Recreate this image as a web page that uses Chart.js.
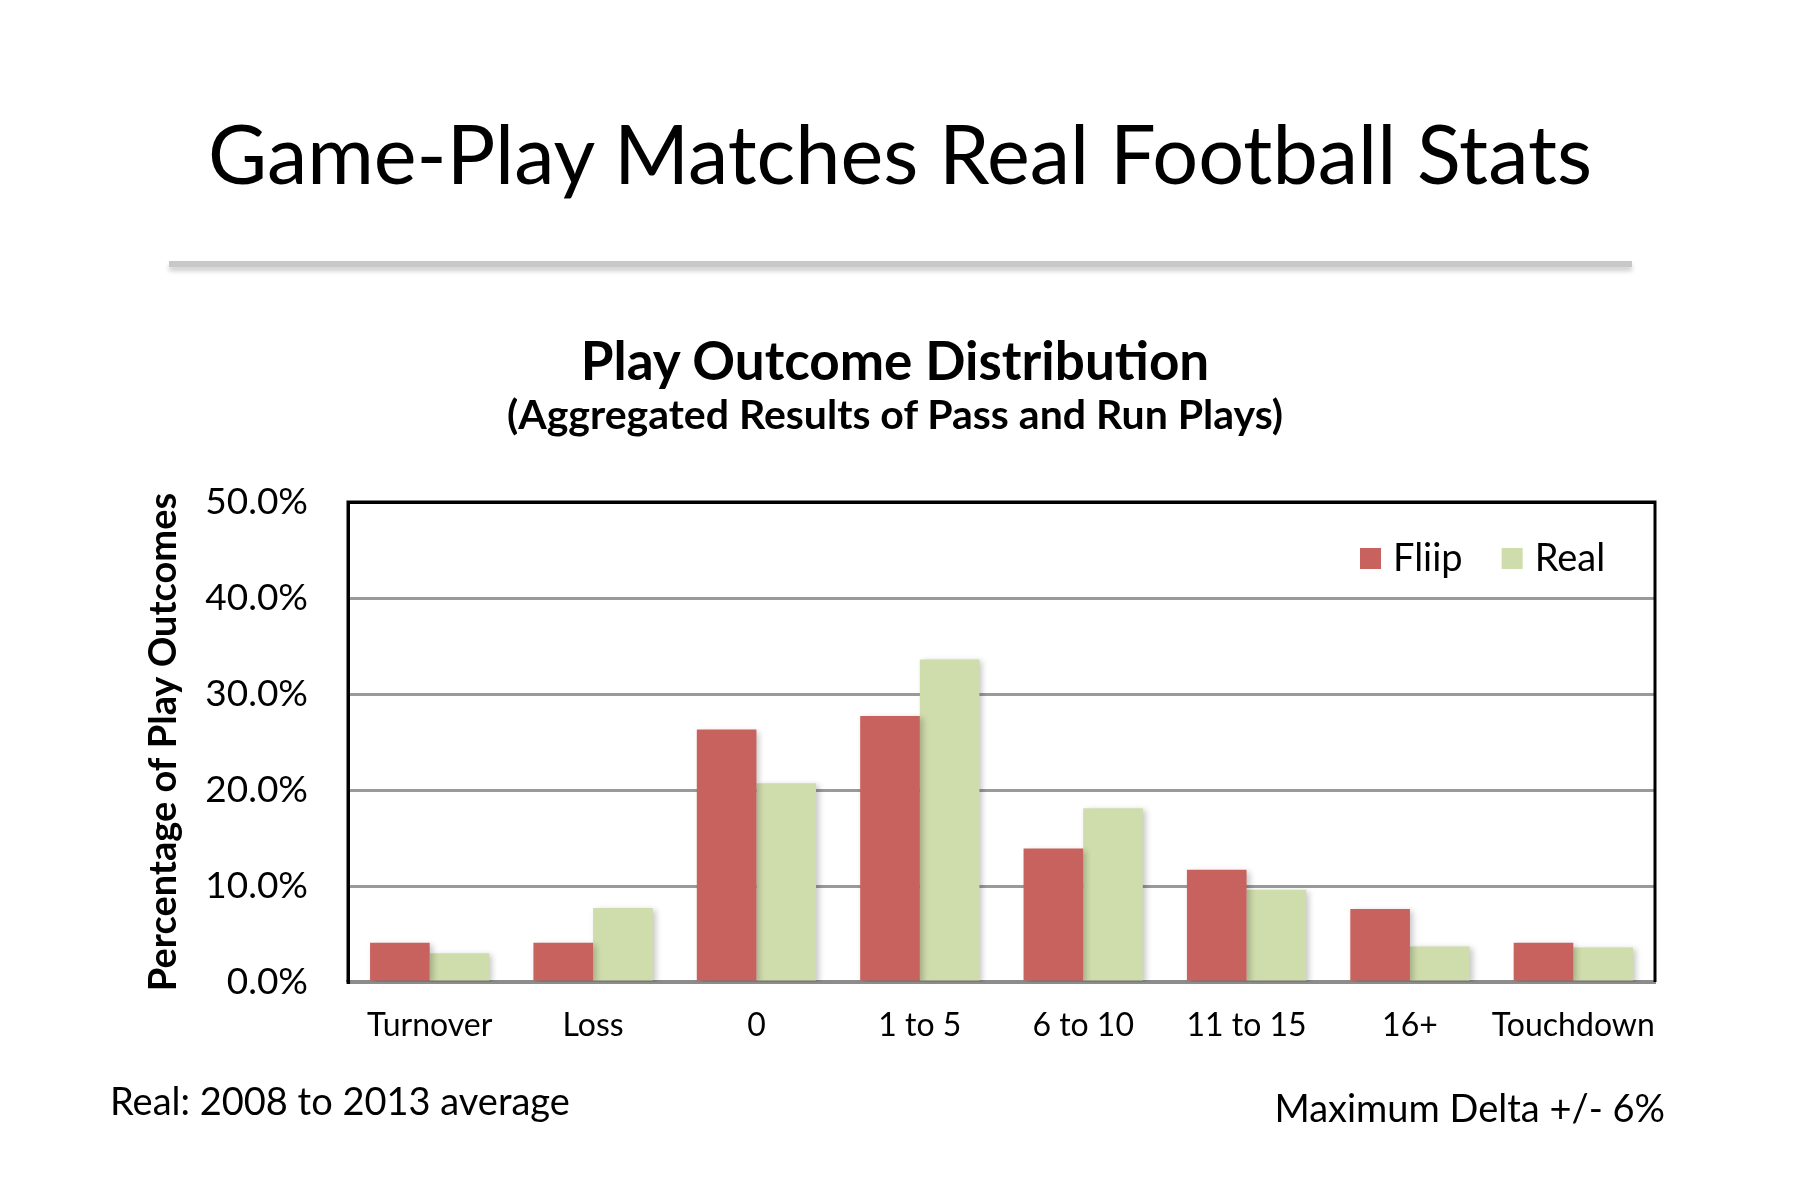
<!DOCTYPE html>
<html>
<head>
<meta charset="utf-8">
<script src="https://cdn.jsdelivr.net/npm/chart.js@4"></script>
<style>
	html, body { margin: 0; padding: 0; background: #fff; }
	#page { position: relative; width: 1800px; height: 1200px; overflow: hidden; font-family: Lato, "Open Sans", sans-serif; color: #000; }
	#chart { position: absolute; left: 0; top: 0; }
	.txt { position: absolute; white-space: nowrap; line-height: 1; }
	#rule { position: absolute; left: 169px; top: 261px; width: 1463px; height: 6px; background: #c8c8c8; box-shadow: 0 4px 5px rgba(0,0,0,0.2); }
</style>
</head>
<body>
<div id="page">
	<canvas id="chart" width="1800" height="1200"></canvas>
	<div class="txt" style="left:0; width:1800px; text-align:center; top:112px; font-size:81px;">Game-Play Matches Real Football Stats</div>
	<div id="rule"></div>
	<div class="txt" style="left:0; width:1790px; text-align:center; top:333px; font-size:53px; font-weight:bold;">Play Outcome Distribution</div>
	<div class="txt" style="left:0; width:1790px; text-align:center; top:393px; font-size:41px; font-weight:bold;">(Aggregated Results of Pass and Run Plays)</div>
	<div class="txt" style="left:110px; top:1081px; font-size:38px;">Real: 2008 to 2013 average</div>
	<div class="txt" style="right:135px; top:1088px; font-size:38px;">Maximum Delta +/- 6%</div>
</div>
<script>
// chart data
const outcomes = ["Turnover", "Loss", "0", "1 to 5", "6 to 10", "11 to 15", "16+", "Touchdown"];
const fliipPct = [4.1, 4.1, 26.3, 27.7, 13.9, 11.7, 7.6, 4.1];
const realPct = [3.0, 7.7, 20.7, 33.6, 18.1, 9.6, 3.7, 3.6];
const seriesNames = ["Fliip", "Real"];
const seriesColors = ["#c8625e", "#cfdcab"];

// soft shadow under the bars, like the office chart
const barShadow = {
	id: "barShadow",
	beforeDatasetsDraw(chart) {
		const ctx = chart.ctx;
		ctx.save();
		ctx.shadowColor = "rgba(0,0,0,0.22)";
		ctx.shadowBlur = 6;
		ctx.shadowOffsetX = 3;
		ctx.shadowOffsetY = 2;
	},
	afterDatasetsDraw(chart) {
		chart.ctx.restore();
	},
};

// black frame on left/top/right of plot
const plotFrame = {
	id: "plotFrame",
	afterDraw(chart) {
		const { ctx, chartArea: a } = chart;
		ctx.save();
		ctx.strokeStyle = "#000";
		ctx.lineWidth = 3;
		ctx.beginPath();
		ctx.moveTo(a.left, a.bottom);
		ctx.lineTo(a.left, a.top);
		ctx.lineTo(a.right, a.top);
		ctx.lineTo(a.right, a.bottom);
		ctx.stroke();
		ctx.restore();
	},
};

// legend drawn inside the plot, top right
const insideLegend = {
	id: "insideLegend",
	afterDraw(chart) {
		const { ctx, chartArea: a } = chart;
		ctx.save();
		ctx.font = "38px Lato";
		ctx.textBaseline = "middle";
		let x = a.right - 295;
		const y = a.top + 57;
		chart.data.datasets.forEach((ds) => {
			ctx.fillStyle = ds.backgroundColor;
			ctx.fillRect(x, y - 11, 21, 21);
			x += 33;
			ctx.fillStyle = "#000";
			ctx.fillText(ds.label, x, y);
			x += ctx.measureText(ds.label).width + 39;
		});
		ctx.restore();
	},
};

const ctx = document.getElementById("chart").getContext("2d");
new Chart(ctx, {
	type: "bar",
	data: {
		labels: outcomes,
		datasets: [fliipPct, realPct].map((vals, i) => ({
			label: seriesNames[i],
			data: vals,
			backgroundColor: seriesColors[i],
			borderWidth: 0,
			barPercentage: 1,
			categoryPercentage: 0.73,
		})),
	},
	options: {
		responsive: false,
		animation: false,
		devicePixelRatio: 1,
		layout: { padding: { left: 141, right: 145, top: 502, bottom: 138 } },
		plugins: {
			legend: { display: false },
			tooltip: { enabled: false },
		},
		scales: {
			x: {
				grid: { display: false },
				border: { color: "#8c8c8c", width: 4 },
				ticks: {
					color: "#000",
					font: { family: "Lato", size: 32 },
					padding: 16,
					autoSkip: false,
					maxRotation: 0,
					minRotation: 0,
				},
				afterFit(scale) { scale.height = 80; },
			},
			y: {
				min: 0,
				max: 50,
				ticks: {
					stepSize: 10,
					color: "#000",
					padding: 40,
					font: { family: "Lato", size: 37 },
					callback: (v) => v.toFixed(1) + "%",
				},
				grid: {
					drawTicks: false,
					lineWidth: 3,
					color: (c) => (c.tick && c.tick.value === 50 ? "#000" : "#9a9a9a"),
				},
				border: { color: "#000", width: 3 },
				title: {
					display: true,
					text: "Percentage of Play Outcomes",
					color: "#000",
					font: { family: "Lato", size: 38, weight: "bold" },
					padding: 0,
				},
				afterFit(scale) { scale.width = 207; },
			},
		},
	},
	plugins: [barShadow, plotFrame, insideLegend],
});
</script>
</body>
</html>
